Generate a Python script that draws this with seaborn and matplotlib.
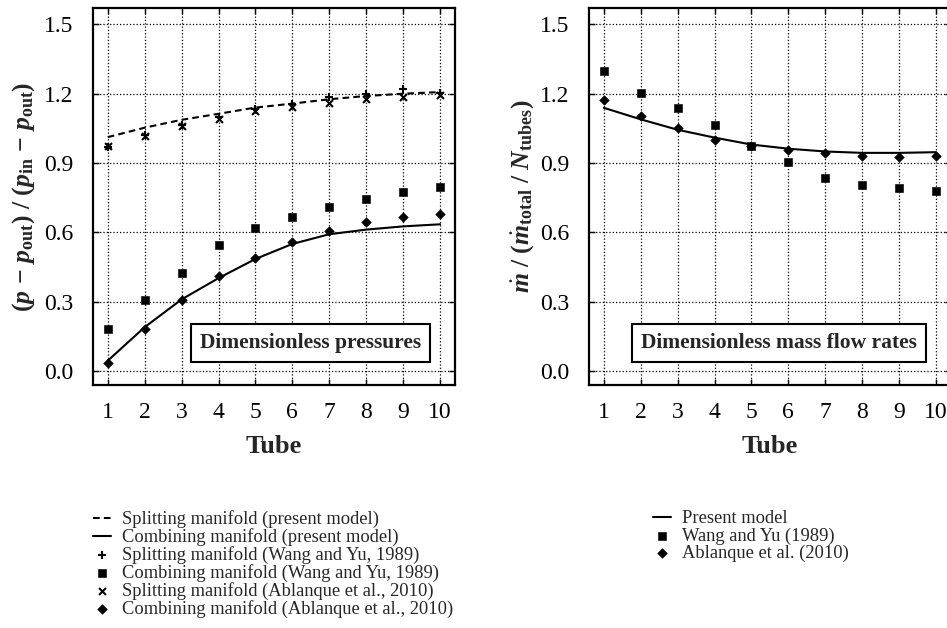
import numpy as np
import pandas as pd
import matplotlib
matplotlib.use("Agg")
import matplotlib.pyplot as plt
import seaborn as sns

# 数据：管号与无量纲压力/流量
tubes = np.arange(1, 11)

split_model = [1.012, 1.053, 1.087, 1.113, 1.140, 1.157, 1.176, 1.190, 1.200, 1.207]
comb_model = [0.045, 0.190, 0.310, 0.402, 0.485, 0.550, 0.592, 0.612, 0.626, 0.635]
split_wang = [0.970, 1.020, 1.065, 1.100, 1.135, 1.155, 1.186, 1.200, 1.222, 1.205]
comb_wang = [0.180, 0.307, 0.423, 0.546, 0.620, 0.668, 0.711, 0.743, 0.774, 0.795]
split_abl = [0.973, 1.019, 1.060, 1.092, 1.123, 1.142, 1.161, 1.178, 1.185, 1.196]
comb_abl = [0.033, 0.180, 0.307, 0.411, 0.488, 0.560, 0.606, 0.644, 0.668, 0.680]

flow_model = [1.139, 1.089, 1.044, 1.010, 0.980, 0.962, 0.950, 0.944, 0.944, 0.947]
flow_wang = [1.300, 1.204, 1.139, 1.066, 0.972, 0.904, 0.836, 0.806, 0.793, 0.780]
flow_abl = [1.171, 1.102, 1.051, 1.001, 0.972, 0.955, 0.943, 0.932, 0.926, 0.932]

yticks = [0.0, 0.3, 0.6, 0.9, 1.2, 1.5]

sns.set_theme(style="ticks")
plt.rcParams["font.family"] = ["Liberation Serif", "DejaVu Serif"]
plt.rcParams["mathtext.fontset"] = "custom"
plt.rcParams["mathtext.rm"] = "Liberation Serif"
plt.rcParams["mathtext.it"] = "Liberation Serif:italic"
plt.rcParams["mathtext.bf"] = "Liberation Serif:bold"
plt.rcParams["mathtext.bfit"] = "Liberation Serif:bold:italic"

fig = plt.figure(figsize=(9.47, 6.28), dpi=100)
ax1 = fig.add_axes([0.0982, 0.387, 0.382, 0.600])
ax2 = fig.add_axes([0.622, 0.387, 0.382, 0.600])


def style_axes(ax):
    ax.set_xlim(0.6, 10.4)
    ax.set_ylim(-0.06, 1.57)
    ax.set_xticks(tubes)
    ax.set_yticks(yticks)
    ax.set_yticklabels([f"{v:.1f}" for v in yticks])
    ax.grid(True, color="black", linestyle=":", linewidth=0.9)
    ax.tick_params(direction="in", length=4, width=1.0, top=True, right=True,
                   labelsize=17, colors="black")
    ax.tick_params(axis="y", pad=14)
    ax.tick_params(axis="x", pad=12)
    for s in ax.spines.values():
        s.set_linewidth(1.6)
        s.set_color("black")
    ax.set_xlabel("Tube", fontsize=19, fontweight="bold", labelpad=9)


def add_box(ax, text, x):
    ax.text(x, 0.111, text, transform=ax.transAxes, ha="center", va="center",
            fontsize=15.5, fontweight="bold",
            bbox=dict(boxstyle="square,pad=0.42", facecolor="white",
                      edgecolor="black", linewidth=1.5), zorder=5)


# 左图：压力
sns.lineplot(x=tubes, y=split_model, ax=ax1, color="black", linewidth=1.5,
             linestyle=(0, (3.2, 2.0)), label="Splitting manifold (present model)")
sns.lineplot(x=tubes, y=comb_model, ax=ax1, color="black", linewidth=1.5,
             label="Combining manifold (present model)")
sns.scatterplot(x=tubes, y=split_wang, ax=ax1, color="black", marker="+", s=40,
                linewidth=1.5, label="Splitting manifold (Wang and Yu, 1989)", zorder=4)
sns.scatterplot(x=tubes, y=comb_wang, ax=ax1, color="black", marker="s", s=28,
                edgecolor="black", label="Combining manifold (Wang and Yu, 1989)", zorder=4)
sns.scatterplot(x=tubes, y=split_abl, ax=ax1, color="black", marker="x", s=25,
                linewidth=1.5, label="Splitting manifold (Ablanque et al., 2010)", zorder=4)
sns.scatterplot(x=tubes, y=comb_abl, ax=ax1, color="black", marker="D", s=24,
                edgecolor="black", label="Combining manifold (Ablanque et al., 2010)", zorder=4)
style_axes(ax1)
ax1.set_ylabel(r"$\mathbf{(}\mathbfit{p}\mathbf{\,-\,}\mathbfit{p}_{\mathbf{out}}\mathbf{)\ /\ (}"
               r"\mathbfit{p}_{\mathbf{in}}\mathbf{\,-\,}\mathbfit{p}_{\mathbf{out}}\mathbf{)}$",
               fontsize=18.5, labelpad=5)
add_box(ax1, "Dimensionless pressures", 0.602)
ax1.legend(loc="upper left", bbox_to_anchor=(0.0, -0.333), frameon=False, fontsize=13.3,
           borderaxespad=0, borderpad=0, labelspacing=0.0, handlelength=0.95,
           handletextpad=0.6)

# 右图：质量流量
sns.lineplot(x=tubes, y=flow_model, ax=ax2, color="black", linewidth=1.5,
             label="Present model")
sns.scatterplot(x=tubes, y=flow_wang, ax=ax2, color="black", marker="s", s=28,
                edgecolor="black", label="Wang and Yu (1989)", zorder=4)
sns.scatterplot(x=tubes, y=flow_abl, ax=ax2, color="black", marker="D", s=24,
                edgecolor="black", label="Ablanque et al. (2010)", zorder=4)
style_axes(ax2)
ax2.set_ylabel(r"$\dot{\mathbfit{m}}\mathbf{\ /\ (}\dot{\mathbfit{m}}_{\mathbf{total}}"
               r"\mathbf{\ /\ }\mathbfit{N}_{\mathbf{tubes}}\mathbf{)}$",
               fontsize=18.5, labelpad=3)
add_box(ax2, "Dimensionless mass flow rates", 0.525)
ax2.legend(loc="upper left", bbox_to_anchor=(0.178, -0.333), frameon=False, fontsize=13.3,
           borderaxespad=0, borderpad=0, labelspacing=0.0, handlelength=0.95,
           handletextpad=0.6)

fig.savefig("out.png", dpi=100)
